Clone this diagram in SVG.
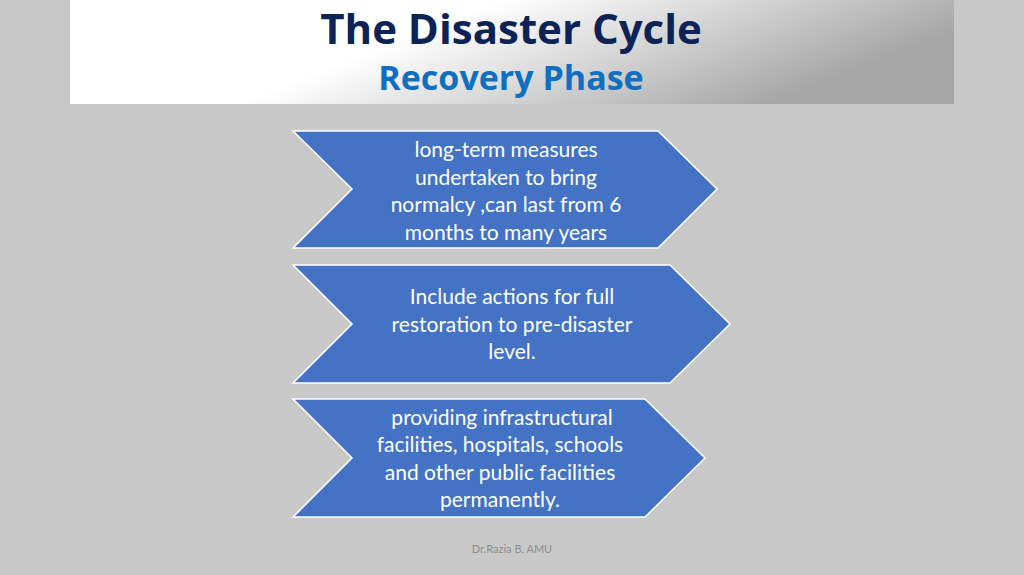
<svg xmlns="http://www.w3.org/2000/svg" width="1024" height="575" viewBox="0 0 1024 575">
<defs>
<linearGradient id="hdr" x1="0" y1="0" x2="1" y2="0.3">
<stop offset="0" stop-color="#ffffff"/><stop offset="0.45" stop-color="#ffffff"/><stop offset="1" stop-color="#a6a6a6"/>
</linearGradient>
</defs>
<style>
.chev{fill:#4472c4;stroke:#ffffff;stroke-width:1.5}
.t{font-family:Lato,"Open Sans",sans-serif;font-size:21px;fill:#ffffff;text-anchor:middle}
</style>
<rect width="1024" height="575" fill="#c8c8c8"/>
<rect x="70" y="0" width="884" height="104" fill="url(#hdr)"/>
<text x="511" y="44" font-family="'Open Sans',sans-serif" font-weight="bold" font-size="42" fill="#0d2356" text-anchor="middle">The Disaster Cycle</text>
<text x="511" y="90" font-family="'Open Sans',sans-serif" font-weight="bold" font-size="34" fill="#0f6fc0" text-anchor="middle">Recovery Phase</text>
<g id="n1">
<polygon class="chev" points="293,131 658,131 717,189 658,248 293,248 352,189"/>
<text class="t"><tspan x="506" y="157">long-term measures</tspan><tspan x="506" y="185">undertaken to bring</tspan><tspan x="506" y="212">normalcy ,can last from 6</tspan><tspan x="506" y="240">months to many years</tspan></text>
</g>
<g id="n2">
<polygon class="chev" points="293,265 670,265 730,324 670,383 293,383 352,324"/>
<text class="t"><tspan x="512" y="304">Include actions  for full</tspan><tspan x="512" y="332">restoration to pre-disaster</tspan><tspan x="512" y="359">level.</tspan></text>
</g>
<g id="n3">
<polygon class="chev" points="293,399 645,399 705,458 645,517 293,517 352,458"/>
<text class="t"><tspan x="502" y="425">providing infrastructural</tspan><tspan x="500" y="452">facilities, hospitals, schools</tspan><tspan x="500" y="480">and other public facilities</tspan><tspan x="500" y="507">permanently.</tspan></text>
</g>
<g id="connectors"/>
<text x="512" y="553" font-family="Lato,sans-serif" font-size="11" fill="#8c8c8c" text-anchor="middle">Dr.Razia B, AMU</text>
</svg>
